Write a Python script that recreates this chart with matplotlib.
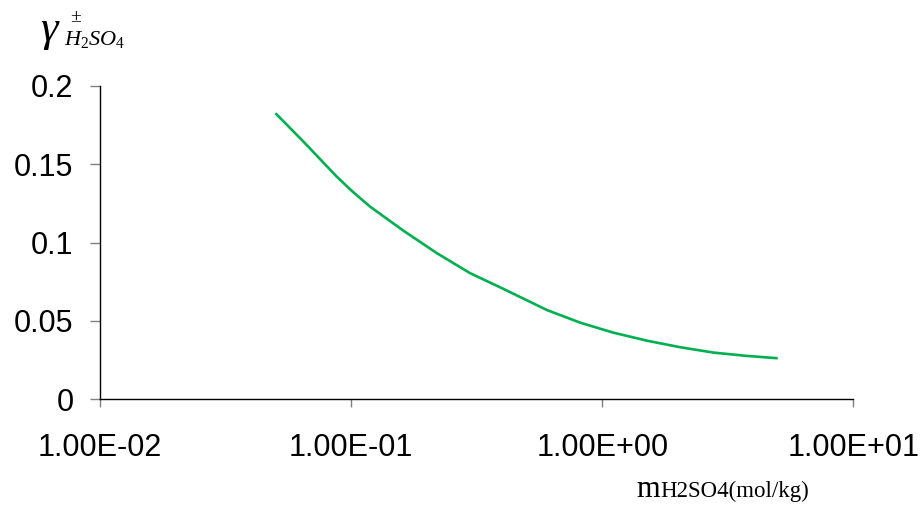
import matplotlib
matplotlib.use("Agg")
import matplotlib.pyplot as plt
from matplotlib.ticker import FixedLocator, FixedFormatter, NullLocator

# Data
molality = [0.050, 0.0646, 0.0877, 0.102, 0.119, 0.162, 0.220, 0.298,
            0.404, 0.602, 0.818, 1.11, 1.51, 2.05, 2.78, 3.77, 5.0]
gamma = [0.1826, 0.1645, 0.1421, 0.1322, 0.1230, 0.1075, 0.0932, 0.0805,
         0.0705, 0.0570, 0.0489, 0.0425, 0.0374, 0.0332, 0.0298, 0.0277, 0.0262]

x_ticks = [0.01, 0.1, 1, 10]
x_tick_labels = ["1.00E-02", "1.00E-01", "1.00E+00", "1.00E+01"]
y_ticks = [0, 0.05, 0.1, 0.15, 0.2]
y_tick_labels = ["0", "0.05", "0.1", "0.15", "0.2"]

plt.rcParams['mathtext.fontset'] = 'custom'
plt.rcParams['mathtext.it'] = 'Liberation Serif:italic'
plt.rcParams['mathtext.rm'] = 'Liberation Serif'

W, H = 923, 508
fig = plt.figure(figsize=(W / 100, H / 100), dpi=100)
ax = fig.add_axes([100 / W, 1 - 399.3 / H, (853.3 - 100) / W, (399.3 - 86) / H])

ax.plot(molality, gamma, color="#00B050", linewidth=1.9,
        solid_joinstyle="round", solid_capstyle="butt")

ax.set_xscale("log")
ax.set_xlim(0.01, 10)
ax.set_ylim(0, 0.2)
ax.xaxis.set_major_locator(FixedLocator(x_ticks))
ax.xaxis.set_major_formatter(FixedFormatter(x_tick_labels))
ax.xaxis.set_minor_locator(NullLocator())
ax.yaxis.set_major_locator(FixedLocator(y_ticks))
ax.yaxis.set_major_formatter(FixedFormatter(y_tick_labels))

for s in ["top", "right"]:
    ax.spines[s].set_visible(False)
for s in ["left", "bottom"]:
    ax.spines[s].set_color("black")
    ax.spines[s].set_linewidth(1.0)

ax.tick_params(axis="y", direction="out", length=7, width=1, color="#808080",
               pad=12, labelsize=22, labelcolor="black")
ax.tick_params(axis="x", direction="out", length=6, width=1, color="#808080",
               pad=18, labelsize=22, labelcolor="black")
for lab in ax.get_xticklabels() + ax.get_yticklabels():
    lab.set_family("Liberation Sans")

# y-axis label (gamma with +/- and H2SO4 subscript)
fig.text(40 / W, 1 - 41 / H, r"$\gamma$", fontsize=32, ha="left", va="baseline")
fig.text(70 / W, 1 - 22 / H, "±", fontsize=14, family="Liberation Serif", ha="left", va="baseline")
fig.text(64 / W, 1 - 45 / H, r"$H_{2}SO_{4}$", fontsize=16, ha="left", va="baseline")

# x-axis label
fig.text(636 / W, 1 - 497 / H, "m", fontsize=22, family="Liberation Serif", ha="left", va="baseline")
fig.text(660 / W, 1 - 497 / H, "H2SO4(mol/kg)", fontsize=16.5, family="Liberation Serif",
         ha="left", va="baseline")

fig.savefig("out.png", dpi=100)
